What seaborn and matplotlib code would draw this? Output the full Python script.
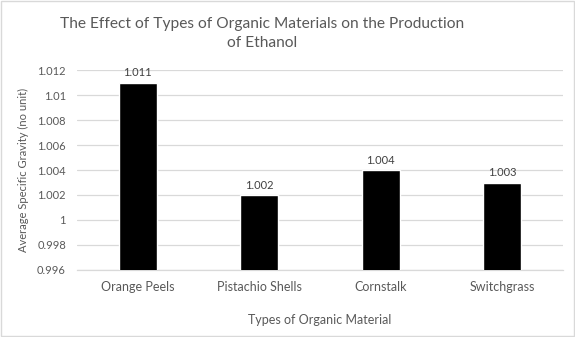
import matplotlib
matplotlib.use("Agg")
import matplotlib.pyplot as plt
import seaborn as sns
import pandas as pd
from matplotlib.patches import Rectangle

materials = ["Orange Peels", "Pistachio Shells", "Cornstalk", "Switchgrass"]
gravity = [1.011, 1.002, 1.004, 1.003]
value_labels = ["1.011", "1.002", "1.004", "1.003"]
y_ticks = [0.996, 0.998, 1.0, 1.002, 1.004, 1.006, 1.008, 1.01, 1.012]
y_tick_labels = ["0.996", "0.998", "1", "1.002", "1.004", "1.006", "1.008", "1.01", "1.012"]

sns.set_style("white")
plt.rcParams["font.family"] = ["Lato", "DejaVu Sans"]
text_color = "#595959"
grid_color = "#d9d9d9"

df = pd.DataFrame({"material": materials, "gravity": gravity})

fig = plt.figure(figsize=(5.75, 3.37), dpi=100)
ax = fig.add_axes([0.134, 0.199, 0.845, 0.593])

sns.barplot(data=df, x="material", y="gravity", color="black", width=0.31,
            saturation=1, ax=ax, zorder=3)
ax.set_ylim(0.996, 1.012)
ax.set_xlim(-0.5, 3.5)
ax.set_yticks(y_ticks)
ax.set_yticklabels(y_tick_labels)
ax.yaxis.grid(True, color=grid_color, linewidth=0.9, zorder=0)
ax.xaxis.grid(False)
for side in ["top", "right", "left"]:
    ax.spines[side].set_visible(False)
ax.spines["bottom"].set_color(grid_color)
ax.spines["bottom"].set_linewidth(0.9)
ax.tick_params(axis="both", length=0, colors=text_color)
ax.tick_params(axis="x", pad=8, labelsize=9)
ax.tick_params(axis="y", pad=8, labelsize=8)

for i, (v, lab) in enumerate(zip(gravity, value_labels)):
    ax.annotate(lab, (i, v), xytext=(0, 3), textcoords="offset points",
                ha="center", va="bottom", fontsize=8, color="#404040")

ax.set_xlabel("Types of Organic Material", fontsize=9, color=text_color, labelpad=15)
ax.set_ylabel("Average Specific Gravity (no unit)", fontsize=8, color=text_color, labelpad=6)

fig.text(0.456, 0.90, "The Effect of Types of Organic Materials on the Production\nof Ethanol",
         ha="center", va="center", fontsize=11.2, color=text_color, linespacing=1.45)

fig.patches.append(Rectangle((0.002, 0.003), 0.996, 0.994, transform=fig.transFigure,
                             fill=False, edgecolor=grid_color, linewidth=1))

fig.savefig("out.png", dpi=100)
